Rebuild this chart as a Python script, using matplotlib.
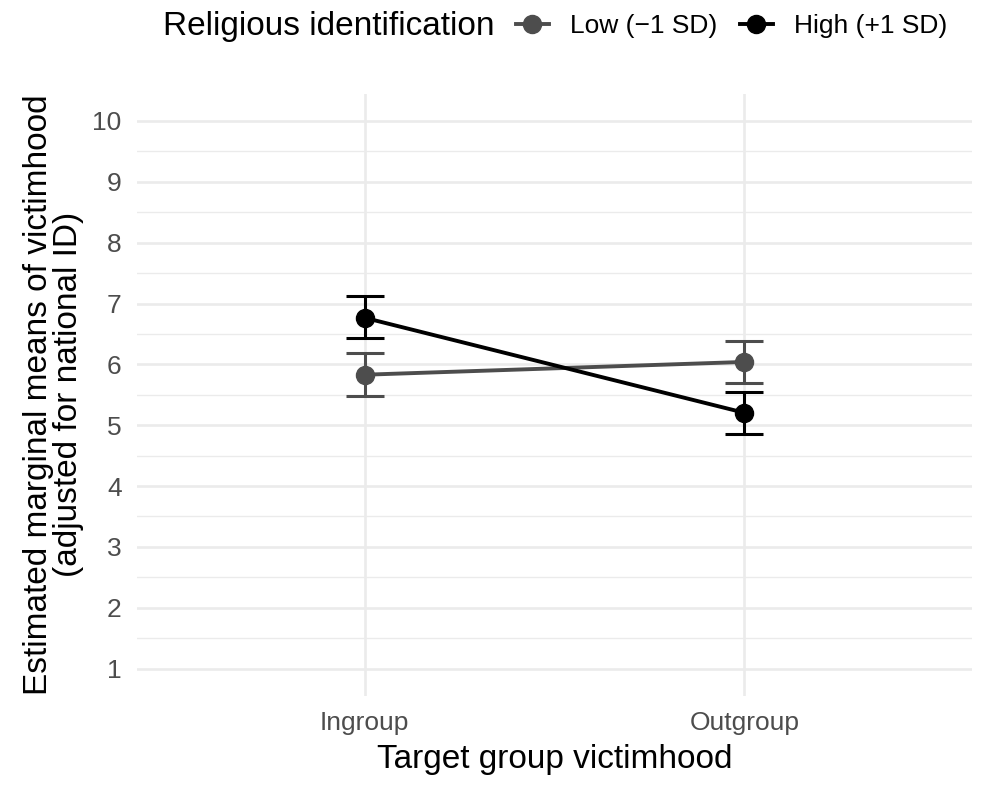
import matplotlib
matplotlib.use("Agg")
import matplotlib.pyplot as plt
from matplotlib.lines import Line2D

plt.rcParams['font.family'] = ['Liberation Sans', 'DejaVu Sans']

groups = ["Ingroup", "Outgroup"]
series = ["Low (\u22121 SD)", "High (+1 SD)"]
low_mean = [5.83, 6.04]
low_lo = [5.485, 5.70]
low_hi = [6.18, 6.385]
high_mean = [6.765, 5.205]
high_lo = [6.43, 4.86]
high_hi = [7.12, 5.55]

colors = ["#4D4D4D", "#000000"]
grid_col = "#EBEBEB"
lw = 2.8
ms = 13

fig = plt.figure(figsize=(9.91, 7.87), dpi=100)
ax = fig.add_axes([137 / 991, 1 - 696 / 787, (972 - 137) / 991, (696 - 93.6) / 787])

x = list(range(1, len(groups) + 1))
data = [(low_mean, low_lo, low_hi), (high_mean, high_lo, high_hi)]
for (m, lo, hi), c in zip(data, colors):
    ax.plot(x, m, color=c, lw=lw, zorder=3)
for (m, lo, hi), c in zip(data, colors):
    yerr = [[mm - l for mm, l in zip(m, lo)], [h - mm for mm, h in zip(m, hi)]]
    ax.errorbar(x, m, yerr=yerr, fmt="none", ecolor=c, elinewidth=2.2,
                capsize=13.7, capthick=2.2, zorder=4)
for (m, lo, hi), c in zip(data, colors):
    ax.plot(x, m, "o", color=c, ms=ms, zorder=5)

ax.set_xlim(0.4, 2.6)
ax.set_ylim(0.55, 10.45)
ax.set_xticks(x)
ax.set_xticklabels(groups)
ax.set_yticks(range(1, 11))
ax.set_yticks([i + 0.5 for i in range(1, 10)], minor=True)

ax.grid(True, which="major", color=grid_col, lw=1.9, zorder=0)
ax.grid(True, which="minor", axis="y", color=grid_col, lw=1.0, zorder=0)
ax.set_axisbelow(True)
for s in ax.spines.values():
    s.set_visible(False)
ax.tick_params(which="both", length=0, labelsize=19, labelcolor="#4D4D4D")
ax.tick_params(axis="y", pad=11)
ax.tick_params(axis="x", pad=11)

ax.set_xlabel("Target group victimhood", fontsize=24, labelpad=6)
ax.set_ylabel("Estimated marginal means of victimhood\n(adjusted for national ID)",
              fontsize=24, labelpad=6, linespacing=0.95)

fig.text(163 / 991, 1 - 26 / 787, "Religious identification", fontsize=24,
         ha="left", va="center")
handles = [Line2D([], [], color=c, lw=lw, marker="o", ms=ms) for c in colors]
fig.legend(handles, series, loc="center left", bbox_to_anchor=(516 / 991, 1 - 26 / 787),
           ncol=2, frameon=False, fontsize=19, handlelength=1.25, handletextpad=0.8,
           columnspacing=0.85, borderpad=0, borderaxespad=0)

fig.savefig("out.png", dpi=100)
